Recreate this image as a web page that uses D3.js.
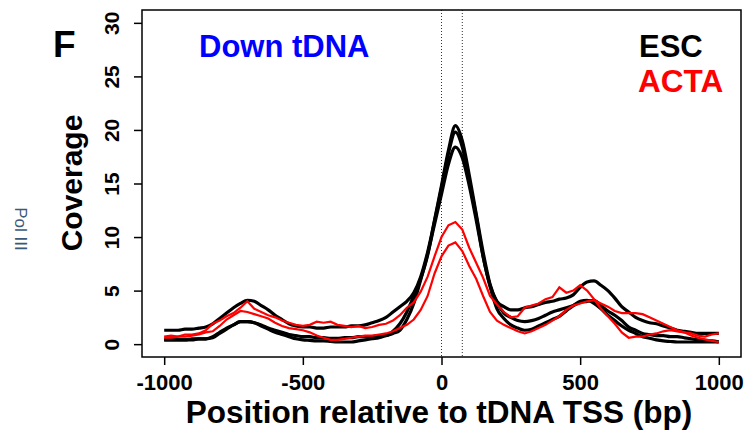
<!DOCTYPE html>
<html>
<head>
<meta charset="utf-8">
<script src="https://cdn.jsdelivr.net/npm/d3@7"></script>
<style>
  body { margin: 0; background: #fff; }
  text { font-family: "Liberation Sans", Arial, sans-serif; }
</style>
</head>
<body>
<script>
// sample positions (bp), every 25 bp from -1000 to 1000
const positions = d3.range(-1000, 1001, 25);

// ESC replicates (black)
const esc1 = [1.3, 1.3, 1.3, 1.4, 1.4, 1.5, 1.6, 1.9, 2.4, 2.9,
  3.4, 3.8, 4.1, 4.0, 3.6, 3.2, 2.7, 2.3, 1.9, 1.7,
  1.6, 1.6, 1.5, 1.5, 1.6, 1.6, 1.6, 1.7, 1.7, 1.8,
  2.0, 2.2, 2.5, 3.0, 3.5, 4.0, 4.8, 6.3, 8.6, 11.5,
  14.6, 17.8, 19.8, 18.4, 15.3, 12.0, 8.2, 5.5, 4.0, 3.5,
  3.2, 3.2, 3.4, 3.5, 3.7, 3.9, 4.0, 4.2, 4.3, 4.6,
  5.3, 5.8, 5.9, 5.5, 5.0, 4.3, 3.5, 3.0, 2.5, 2.2,
  2.0, 1.9, 1.7, 1.5, 1.3, 1.2, 1.1, 1.0, 1.0, 1.0,
  1.0];
const esc2 = [0.4, 0.4, 0.4, 0.4, 0.5, 0.5, 0.5, 0.7, 1.1, 1.5,
  1.8, 2.1, 2.1, 2.0, 1.8, 1.5, 1.3, 1.1, 0.9, 0.8,
  0.7, 0.7, 0.6, 0.6, 0.55, 0.55, 0.6, 0.6, 0.7, 0.7,
  0.7, 0.8, 0.8, 1.2, 1.9, 3.0, 4.5, 6.1, 8.3, 11.6,
  14.8, 18.1, 20.4, 19.0, 15.8, 12.2, 8.6, 5.6, 3.9, 2.9,
  2.5, 2.2, 2.1, 2.2, 2.4, 2.7, 3.0, 3.2, 3.4, 3.6,
  3.9, 4.0, 4.1, 3.6, 3.1, 2.7, 2.2, 1.6, 1.3, 1.0,
  0.9, 0.8, 0.8, 0.7, 0.7, 0.6, 0.5, 0.4, 0.3, 0.3,
  0.2];
const esc3 = [0.4, 0.4, 0.4, 0.4, 0.4, 0.5, 0.5, 0.6, 1.0, 1.4,
  1.8, 2.1, 2.1, 2.0, 1.7, 1.4, 1.1, 0.9, 0.7, 0.5,
  0.4, 0.35, 0.3, 0.3, 0.25, 0.2, 0.2, 0.2, 0.3, 0.4,
  0.5, 0.6, 0.8, 1.0, 1.3, 2.3, 3.8, 6.0, 8.4, 11.2,
  14.0, 16.8, 18.4, 17.4, 14.8, 11.6, 8.2, 5.4, 3.3, 2.4,
  1.8, 1.5, 1.3, 1.4, 1.7, 2.0, 2.3, 2.6, 3.1, 3.6,
  4.0, 4.1, 3.8, 3.3, 2.7, 2.2, 1.7, 1.3, 1.0, 0.7,
  0.55, 0.4, 0.3, 0.25, 0.2, 0.2, 0.2, 0.2, 0.2, 0.2,
  0.2];

// ACTA replicates (red)
const acta1 = [0.7, 0.8, 0.7, 0.9, 0.9, 1.0, 1.3, 1.9, 2.2, 2.6,
  2.9, 3.4, 4.0, 3.3, 3.0, 2.7, 2.5, 2.2, 2.0, 1.8,
  1.7, 1.8, 2.1, 2.0, 2.1, 1.8, 1.7, 1.6, 1.7, 1.5,
  1.6, 1.8, 1.9, 2.2, 2.7, 3.4, 3.9, 4.9, 6.3, 8.2,
  10.0, 11.1, 11.4, 10.7, 9.0, 7.6, 6.2, 4.5, 3.7, 3.0,
  2.5, 2.6, 3.4, 3.6, 3.8, 4.2, 4.4, 5.3, 4.8, 5.0,
  5.5, 5.0, 4.2, 3.3, 2.6, 1.9, 1.1, 0.6, 0.7, 0.7,
  0.9, 1.0, 1.2, 1.3, 1.2, 1.1, 1.0, 0.8, 0.7, 0.9,
  1.0];
const acta2 = [0.6, 0.6, 0.7, 0.7, 0.8, 0.9, 1.1, 1.2, 1.7, 2.3,
  2.7, 3.1, 3.0, 2.8, 2.6, 2.4, 2.0, 1.7, 1.5, 1.4,
  1.3, 1.1, 0.8, 0.6, 0.4, 0.4, 0.5, 0.6, 0.7, 0.8,
  0.8, 0.9, 1.0, 1.2, 1.5, 1.8, 2.3, 3.2, 4.5, 6.6,
  8.2, 9.2, 9.5, 8.7, 7.3, 6.1, 4.5, 3.0, 2.2, 1.8,
  1.5, 1.2, 1.0, 1.2, 1.5, 1.8, 2.2, 2.6, 3.2, 3.6,
  3.8, 4.0, 4.1, 3.8, 3.5, 3.1, 2.9, 2.9, 2.9, 2.8,
  2.5, 2.2, 1.9, 1.6, 1.3, 1.1, 0.8, 0.6, 0.45, 0.3,
  0.2];

const xTicks = [-1000, -500, 0, 500, 1000];
const yTicks = [0, 5, 10, 15, 20, 25, 30];
const tssMarks = [0, 75];

const w = 748;
const h = 432;
const padLeft = 142, padRight = 741, padTop = 10, padBottom = 357;

const xScale = d3.scaleLinear()
  .domain([-1080, 1080])
  .range([padLeft, padRight]);

const yScale = d3.scaleLinear()
  .domain([-1.2, 31.2])
  .range([padBottom, padTop]);

const svg = d3.select("body")
  .append("svg")
  .attr("width", w)
  .attr("height", h);

// dotted markers at the TSS
svg.selectAll("line.tss")
  .data(tssMarks)
  .enter()
  .append("line")
  .attr("class", "tss")
  .attr("x1", (d) => xScale(d))
  .attr("x2", (d) => xScale(d))
  .attr("y1", padTop)
  .attr("y2", padBottom)
  .attr("stroke", "#333")
  .attr("stroke-width", 1)
  .attr("stroke-dasharray", "1,2");

const smooth = d3.line()
  .x((d, i) => xScale(positions[i]))
  .y((d) => yScale(d))
  .curve(d3.curveMonotoneX);

const rough = d3.line()
  .x((d, i) => xScale(positions[i]))
  .y((d) => yScale(d));

[esc1, esc2, esc3].forEach((s) => {
  svg.append("path")
    .attr("d", smooth(s))
    .attr("fill", "none")
    .attr("stroke", "#000")
    .attr("stroke-width", 3.2)
    .attr("stroke-linejoin", "round");
});

[acta1, acta2].forEach((s) => {
  svg.append("path")
    .attr("d", rough(s))
    .attr("fill", "none")
    .attr("stroke", "#ff0000")
    .attr("stroke-width", 2.2)
    .attr("stroke-linejoin", "miter");
});

// box
svg.append("rect")
  .attr("x", padLeft)
  .attr("y", padTop)
  .attr("width", padRight - padLeft)
  .attr("height", padBottom - padTop)
  .attr("fill", "none")
  .attr("stroke", "#000")
  .attr("stroke-width", 1.5);

const xAxis = d3.axisBottom(xScale).tickValues(xTicks).tickSize(8);
const yAxis = d3.axisLeft(yScale).tickValues(yTicks).tickSize(8);

const gx = svg.append("g")
  .attr("transform", "translate(0," + padBottom + ")")
  .call(xAxis);
gx.select(".domain").remove();
gx.selectAll(".tick line").attr("stroke", "#000").attr("stroke-width", 1.5);
gx.selectAll(".tick text")
  .attr("y", 33)
  .attr("dy", 0)
  .attr("fill", "#000")
  .style("font-size", "22px")
  .style("font-weight", "bold")
  .style("font-family", "Liberation Sans, Arial, sans-serif")
  .text((d) => String(d));

const gy = svg.append("g")
  .attr("transform", "translate(" + padLeft + ",0)")
  .call(yAxis);
gy.select(".domain").remove();
gy.selectAll(".tick line").attr("stroke", "#000").attr("stroke-width", 1.5);
gy.selectAll(".tick text")
  .attr("x", 0)
  .attr("dy", 0)
  .attr("text-anchor", "middle")
  .attr("transform", "translate(-23,0) rotate(-90)")
  .attr("fill", "#000")
  .style("font-size", "21px")
  .style("font-weight", "bold")
  .style("font-family", "Liberation Sans, Arial, sans-serif");

// labels
svg.append("text")
  .attr("text-anchor", "middle")
  .attr("transform", "translate(82,183) rotate(-90)")
  .style("font-size", "30px")
  .style("font-weight", "bold")
  .text("Coverage");

svg.append("text")
  .attr("text-anchor", "middle")
  .attr("x", 439)
  .attr("y", 423)
  .style("font-size", "31.5px")
  .style("font-weight", "bold")
  .text("Position relative to tDNA TSS (bp)");

svg.append("text")
  .attr("x", 53)
  .attr("y", 57)
  .style("font-size", "37px")
  .style("font-weight", "bold")
  .text("F");

svg.append("text")
  .attr("x", 199)
  .attr("y", 57)
  .attr("fill", "#0000ff")
  .style("font-size", "31px")
  .style("font-weight", "bold")
  .text("Down tDNA");

svg.append("text")
  .attr("x", 639)
  .attr("y", 57)
  .attr("fill", "#000")
  .style("font-size", "31px")
  .style("font-weight", "bold")
  .text("ESC");

svg.append("text")
  .attr("x", 638)
  .attr("y", 92)
  .attr("fill", "#ff0000")
  .style("font-size", "31.5px")
  .style("font-weight", "bold")
  .text("ACTA");

svg.append("text")
  .attr("text-anchor", "middle")
  .attr("transform", "translate(15,229) rotate(90)")
  .attr("fill", "#3b5a78")
  .style("font-size", "17px")
  .text("Pol III");
</script>
</body>
</html>
